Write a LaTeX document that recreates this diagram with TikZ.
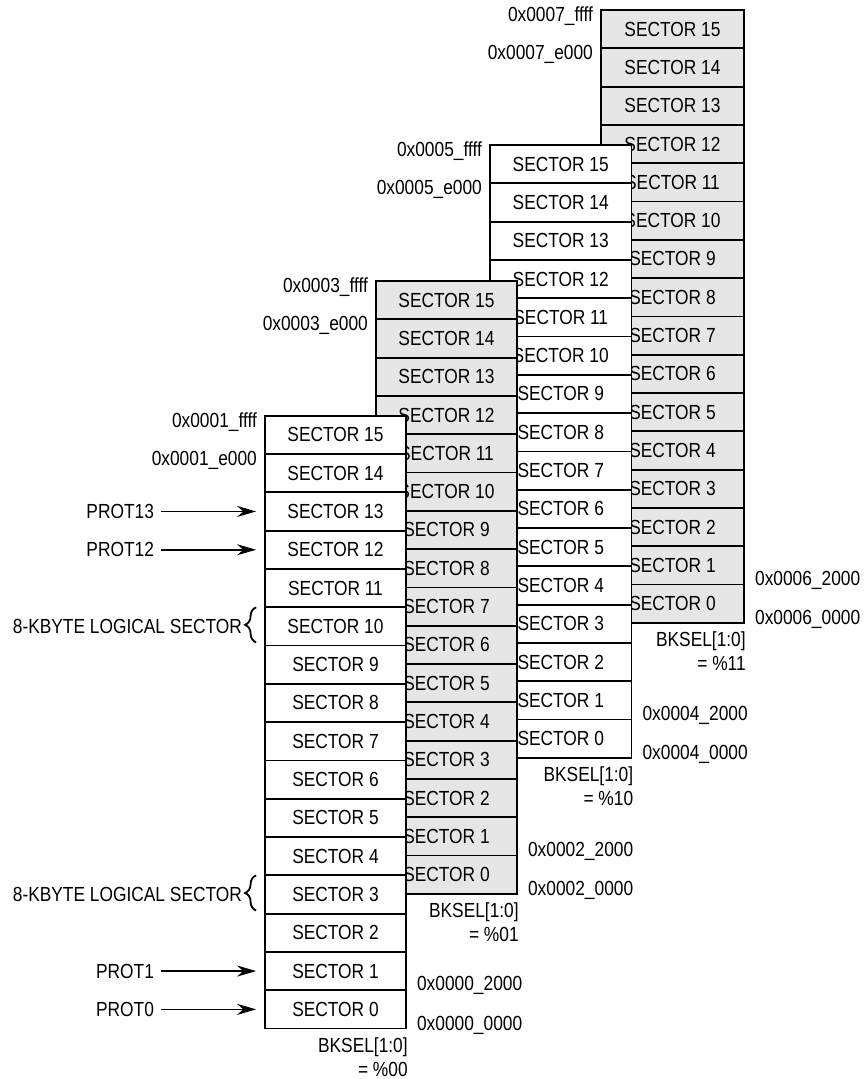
\documentclass[tikz,border=0pt]{standalone}
\usepackage{fontspec}
\setmainfont{Liberation Sans}[FakeStretch=0.85]
\usepackage{xcolor}
\definecolor{sectgray}{HTML}{E6E6E6}
\usepackage{tikz}
\usetikzlibrary{arrows.meta,positioning,decorations.pathreplacing}

\begin{document}
\begin{tikzpicture}[x=1pt,y=-1pt,font=\fontsize{20.4}{24}\selectfont,
  sect/.style={draw,line width=1.8pt,minimum height=38.3pt,inner sep=0pt},
  lbl/.style={inner sep=0pt},
  arr/.style={-{Stealth[length=19pt,width=11pt]},line width=1.6pt,shorten <=7pt,shorten >=8pt},
  brc/.style={decorate,decoration={brace,amplitude=11pt},line width=1.8pt}]
\useasboundingbox (0,0) rectangle (863,1079);
% flash banks, back to front
\foreach \bk/\bankx/\banky/\bankw/\bankfill/\bankbits in
  {3/601/10/143/sectgray/11,2/490/145/141.5/white/10,1/376/281/141/sectgray/01,0/265/415.7/141/white/00}{
  \pgfmathtruncatemacro{\addrhi}{2*\bk+1}
  \pgfmathtruncatemacro{\addrlo}{2*\bk}
  \foreach \sn in {15,...,0}
    \node[sect,fill=\bankfill,minimum width=\bankw pt] (bank\bk-\sn)
      at ({\bankx+\bankw/2},{\banky+(15.5-\sn)*38.3}) {SECTOR \sn};
  % addresses
  \node[lbl,anchor=base east] (hitop\bk) at ([xshift=-7pt,yshift=-12.5pt]bank\bk-15.north west) {0x000\addrhi\_ffff};
  \node[lbl,anchor=base east] (hinext\bk) at ([xshift=-7pt,yshift=-12.5pt]bank\bk-14.north west) {0x000\addrhi\_e000};
  \node[lbl,anchor=base west] (lonext\bk) at ([xshift=10pt,yshift=-1.5pt]bank\bk-0.north east) {0x000\addrlo\_2000};
  \node[lbl,anchor=base west] (lobot\bk) at ([xshift=10pt,yshift=-1pt]bank\bk-0.south east) {0x000\addrlo\_0000};
  % bank select
  \node[lbl,anchor=base east] (sel\bk) at ([xshift=1pt,yshift=-23pt]bank\bk-0.south east) {BKSEL[1:0]};
  \node[lbl,anchor=base east] (val\bk) at ([yshift=-24pt]sel\bk.base east) {= \%\bankbits};
}
% protection inputs
\foreach \sn in {13,12,1,0}{
  \node[lbl,left=110pt of bank0-\sn.west] (prot\sn) {PROT\sn};
  \draw[arr] (prot\sn) -- (bank0-\sn);
}
% logical sectors
\foreach \sn in {10,3}{
  \draw[brc] ([xshift=-8pt,yshift=4pt]bank0-\sn.south west) -- ([xshift=-8pt,yshift=-1pt]bank0-\sn.north west);
  \node[lbl,left=22pt of bank0-\sn.west] (kbyte\sn) {8-KBYTE LOGICAL SECTOR};
}
\end{tikzpicture}
\end{document}
